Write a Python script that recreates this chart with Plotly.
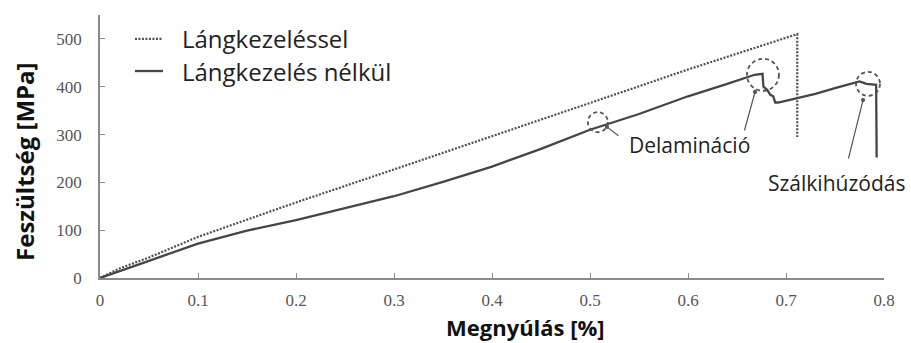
import plotly.graph_objects as go

# ---- data ----
strain_flame = [0, 0.02, 0.05, 0.1, 0.15, 0.2, 0.3, 0.4, 0.5, 0.6, 0.7115, 0.7115]
stress_flame = [0, 20, 43, 86, 122, 158, 227, 296, 366, 436, 510, 295]

strain_noflame = [0, 0.02, 0.05, 0.1, 0.15, 0.2, 0.25, 0.3, 0.35, 0.4, 0.45, 0.49,
                  0.5, 0.55, 0.6, 0.64, 0.66, 0.668, 0.676, 0.677, 0.681, 0.684,
                  0.687, 0.689, 0.692, 0.71, 0.73, 0.75, 0.775, 0.782, 0.792, 0.7925]
stress_noflame = [0, 15, 36, 72, 99, 121, 146, 171, 201, 233, 270, 303,
                  310, 343, 380, 406, 420, 425, 427, 400, 393, 383,
                  380, 367, 367, 375, 385, 397, 411, 406, 404, 252]

x_ticks = [0, 0.1, 0.2, 0.3, 0.4, 0.5, 0.6, 0.7, 0.8]
x_tick_labels = ["0", "0.1", "0.2", "0.3", "0.4", "0.5", "0.6", "0.7", "0.8"]
y_ticks = [0, 100, 200, 300, 400, 500]
y_tick_labels = ["0", "100", "200", "300", "400", "500"]

series_names = ["Lángkezeléssel", "Lángkezelés nélkül"]
x_title = "Megnyúlás [%]"
y_title = "Feszültség [MPa]"

# annotated events: (x, y) in data units
circle_pts = [(0.508, 326), (0.6765, 425), (0.7837, 406)]
circle_r = [10, 16, 12]
arrows = [  # head x, head y, tail offset px
    (0.5173, 316, 13, 10),
    (0.6684, 389, -11, 40),
    (0.7786, 372, -15, 60),
]
labels = [("Delamináció", 0.538, 312), ("Szálkihúzódás", 0.68, 233)]

LINE_COL = "#454545"
AX_COL = "#8a8a8a"

fig = go.Figure()
fig.add_trace(go.Scatter(x=strain_flame, y=stress_flame, mode="lines",
                         name=series_names[0],
                         line=dict(color="#505050", width=2.2, dash="2px,1.5px")))
fig.add_trace(go.Scatter(x=strain_noflame, y=stress_noflame, mode="lines",
                         name=series_names[1],
                         line=dict(color=LINE_COL, width=2.3)))

shapes = []
for (cx, cy), r in zip(circle_pts, circle_r):
    shapes.append(dict(type="circle", xref="x", yref="y", xsizemode="pixel",
                       ysizemode="pixel", xanchor=cx, yanchor=cy,
                       x0=-r, x1=r, y0=-r, y1=r,
                       line=dict(color="#555555", width=1.8, dash="4px,3px")))

# legend samples (paper coords)
leg_y = [0.909, 0.787]
shapes.append(dict(type="line", xref="paper", yref="paper", x0=0.0446, x1=0.0804,
                   y0=leg_y[0], y1=leg_y[0],
                   line=dict(color="#505050", width=2.2, dash="2px,1.5px")))
shapes.append(dict(type="line", xref="paper", yref="paper", x0=0.0446, x1=0.0804,
                   y0=leg_y[1], y1=leg_y[1],
                   line=dict(color=LINE_COL, width=2.3)))

annotations = []
for name, ly in zip(series_names, leg_y):
    annotations.append(dict(text=name, xref="paper", yref="paper", x=0.102, y=ly,
                            xanchor="left", yanchor="middle", showarrow=False,
                            font=dict(family="Open Sans", size=24, color="#222222")))
for hx, hy, ax, ay in arrows:
    annotations.append(dict(text="", x=hx, y=hy, xref="x", yref="y", ax=ax, ay=ay,
                            showarrow=True, arrowhead=6, arrowsize=0.9,
                            arrowwidth=1.2, arrowcolor="#555555"))
for t, lx, ly in labels:
    annotations.append(dict(text=t, x=lx, y=ly, xref="x", yref="y",
                            xanchor="left", yanchor="top", showarrow=False,
                            font=dict(family="Open Sans", size=21, color="#222222")))
annotations.append(dict(text="<b>" + x_title + "</b>", xref="paper", yref="paper",
                        x=0.543, y=-0.247, xanchor="center", yanchor="bottom",
                        showarrow=False, borderpad=0,
                        font=dict(family="Open Sans", size=22, color="#111111")))
annotations.append(dict(text="<b>" + y_title + "</b>", xref="paper", yref="paper",
                        x=-0.0957, y=0.445, xanchor="center", yanchor="middle",
                        textangle=-90, showarrow=False,
                        font=dict(family="Open Sans", size=24, color="#111111")))

tick_font = dict(family="Liberation Serif", size=17, color="#555555")
fig.update_layout(
    width=911, height=343,
    margin=dict(l=100, r=27, t=15, b=65),
    paper_bgcolor="white", plot_bgcolor="white",
    showlegend=False,
    shapes=shapes, annotations=annotations,
    xaxis=dict(range=[0, 0.8], tickvals=x_ticks, ticktext=x_tick_labels,
               ticks="inside", ticklen=5, tickcolor=AX_COL, tickwidth=1.2,
               showline=True, linecolor=AX_COL, linewidth=1.5,
               showgrid=False, zeroline=False, tickfont=tick_font,
               ticklabelstandoff=6),
    yaxis=dict(range=[0, 550], tickvals=y_ticks, ticktext=y_tick_labels,
               ticks="inside", ticklen=5, tickcolor=AX_COL, tickwidth=1.2,
               showline=True, linecolor=AX_COL, linewidth=1.5,
               showgrid=False, zeroline=False, tickfont=tick_font,
               ticklabelstandoff=13),
)
fig.write_html("out.html")
